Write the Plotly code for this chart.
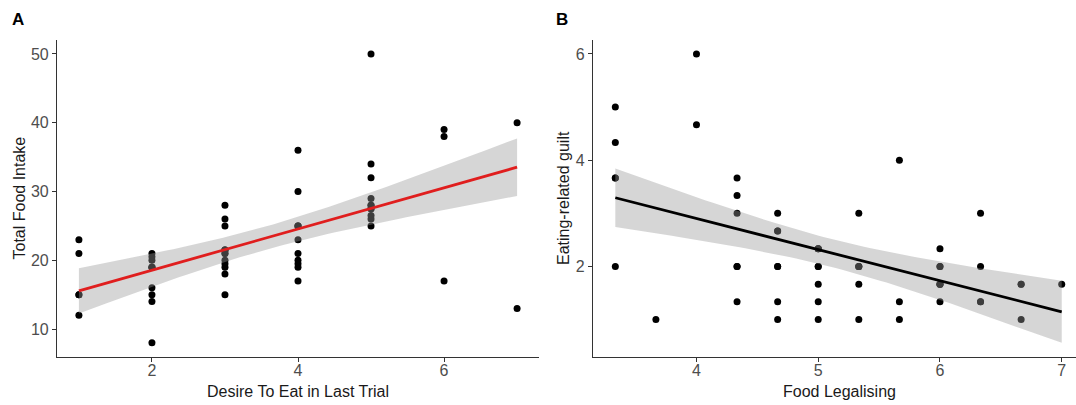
import numpy as np
import plotly.graph_objects as go

# ---------------- Data (overlapping points included) ----------------
# Panel A: Desire To Eat in Last Trial vs Total Food Intake
desire_x = [1, 1, 1, 1, 1,
            2, 2, 2, 2, 2, 2, 2, 2, 2, 2,
            3, 3, 3, 3, 3, 3, 3, 3, 3, 3, 3, 3, 3,
            4, 4, 4, 4, 4, 4, 4, 4, 4, 4, 4,
            5, 5, 5, 5, 5, 5, 5, 5, 5, 5, 5,
            6, 6, 6,
            7, 7]
intake_y = [23, 21, 15, 15, 12,
            21, 20.5, 20, 19, 19, 19, 16, 15, 14, 8,
            28, 26, 25, 21.5, 21.5, 21.5, 21, 21, 20, 19.5, 19, 18, 15,
            36, 30, 25, 25, 25, 23, 21, 20, 19.5, 19, 17,
            50, 34, 32, 29, 28, 28, 27.5, 27.5, 26.5, 26, 25,
            39, 38, 17,
            40, 13]

# Panel B: Food Legalising vs Eating-related guilt
legal_x = [10/3, 10/3, 10/3, 10/3, 10/3,
           11/3,
           4, 4,
           13/3, 13/3, 13/3, 13/3, 13/3, 13/3,
           14/3, 14/3, 14/3, 14/3, 14/3, 14/3, 14/3,
           5, 5, 5, 5, 5, 5, 5, 5,
           16/3, 16/3, 16/3, 16/3, 16/3, 16/3,
           17/3, 17/3, 17/3,
           6, 6, 6, 6, 6, 6, 6,
           19/3, 19/3, 19/3, 19/3,
           20/3, 20/3, 20/3,
           7]
guilt_y = [5, 13/3, 11/3, 11/3, 2,
           1,
           6, 14/3,
           11/3, 10/3, 3, 2, 2, 4/3,
           3, 8/3, 8/3, 2, 2, 4/3, 1,
           7/3, 7/3, 7/3, 2, 2, 5/3, 4/3, 1,
           3, 2, 2, 2, 5/3, 1,
           4, 4/3, 1,
           7/3, 2, 2, 5/3, 5/3, 5/3, 4/3,
           3, 2, 4/3, 4/3,
           5/3, 5/3, 1,
           5/3]

xticks_a = [2, 4, 6]
yticks_a = [10, 20, 30, 40, 50]
xticks_b = [4, 5, 6, 7]
yticks_b = [2, 4, 6]


def t975(df):
    z = 1.959964
    return (z + (z**3 + z) / (4 * df)
            + (5 * z**5 + 16 * z**3 + 3 * z) / (96 * df**2)
            + (3 * z**7 + 19 * z**5 + 17 * z**3 - 15 * z) / (384 * df**3))


def lm_band(x, y, n_grid=80):
    x = np.asarray(x, float)
    y = np.asarray(y, float)
    n = len(x)
    b, a = np.polyfit(x, y, 1)
    resid = y - (a + b * x)
    s = np.sqrt(np.sum(resid**2) / (n - 2))
    sxx = np.sum((x - x.mean())**2)
    gx = np.linspace(x.min(), x.max(), n_grid)
    fit = a + b * gx
    half = t975(n - 2) * s * np.sqrt(1 / n + (gx - x.mean())**2 / sxx)
    return gx, fit, fit - half, fit + half


FONT = "Liberation Sans, Arial, sans-serif"
W, H = 1076, 405

gxa, fa, loa, hia = lm_band(desire_x, intake_y)
gxb, fb, lob, hib = lm_band(legal_x, guilt_y)

fig = go.Figure()

# Panel A
fig.add_trace(go.Scatter(x=desire_x, y=intake_y, mode="markers",
                         marker=dict(color="black", size=7),
                         xaxis="x", yaxis="y", showlegend=False))
fig.add_trace(go.Scatter(x=np.concatenate([gxa, gxa[::-1]]),
                         y=np.concatenate([hia, loa[::-1]]),
                         fill="toself", fillcolor="rgba(153,153,153,0.4)",
                         line=dict(width=0), mode="lines",
                         xaxis="x", yaxis="y", showlegend=False))
fig.add_trace(go.Scatter(x=gxa, y=fa, mode="lines",
                         line=dict(color="#e01e1e", width=2.8),
                         xaxis="x", yaxis="y", showlegend=False))

# Panel B
fig.add_trace(go.Scatter(x=legal_x, y=guilt_y, mode="markers",
                         marker=dict(color="black", size=7),
                         xaxis="x2", yaxis="y2", showlegend=False))
fig.add_trace(go.Scatter(x=np.concatenate([gxb, gxb[::-1]]),
                         y=np.concatenate([hib, lob[::-1]]),
                         fill="toself", fillcolor="rgba(153,153,153,0.4)",
                         line=dict(width=0), mode="lines",
                         xaxis="x2", yaxis="y2", showlegend=False))
fig.add_trace(go.Scatter(x=gxb, y=fb, mode="lines",
                         line=dict(color="black", width=2.8),
                         xaxis="x2", yaxis="y2", showlegend=False))


def expand(lo, hi, f=0.05):
    d = hi - lo
    return [lo - f * d, hi + f * d]


xa_rng = expand(min(desire_x), max(desire_x))
ya_rng = expand(min(min(intake_y), loa.min()), max(max(intake_y), hia.max()))
xb_lo = min(legal_x) - 0.05 * (max(legal_x) - min(legal_x))
xb_rng = [xb_lo, max(legal_x) + 0.032 * (max(legal_x) - min(legal_x))]
yb_rng = expand(min(min(guilt_y), lob.min()), max(max(guilt_y), hib.max()))

ax_common = dict(showline=True, linecolor="#333333", linewidth=1.1,
                 ticks="outside", ticklen=4, tickwidth=1.1, tickcolor="#333333",
                 showgrid=False, zeroline=False,
                 tickfont=dict(family=FONT, size=16, color="#4d4d4d"),
                 automargin=False)

ydom = [(H - 357.3) / H, (H - 39.5) / H]

fig.update_layout(
    width=W, height=H,
    margin=dict(l=0, r=0, t=0, b=0),
    paper_bgcolor="white", plot_bgcolor="white",
    font=dict(family=FONT),
    xaxis=dict(domain=[57 / W, 539 / W], range=xa_rng, tickvals=xticks_a,
               anchor="y", ticklabelstandoff=-6, **ax_common),
    yaxis=dict(domain=ydom, range=ya_rng, tickvals=yticks_a,
               anchor="x", **ax_common),
    xaxis2=dict(domain=[593 / W, 1.0], range=xb_rng, tickvals=xticks_b,
                anchor="y2", ticklabelstandoff=-6, **ax_common),
    yaxis2=dict(domain=ydom, range=yb_rng, tickvals=yticks_b,
                anchor="x2", **ax_common),
)

tfont = dict(family=FONT, size=16, color="#1a1a1a")
ann = [
    dict(text="Desire To Eat in Last Trial", x=298, y=391.5),
    dict(text="Food Legalising", x=839, y=391.5),
    dict(text="Total Food Intake", x=19, y=198.5, textangle=-90),
    dict(text="Eating-related guilt", x=563.5, y=198.5, textangle=-90),
    dict(text="<b>A</b>", x=17.5, y=19.5, size=17),
    dict(text="<b>B</b>", x=562, y=19.5, size=17),
]
for a in ann:
    f = dict(tfont)
    if "size" in a:
        f["size"] = a.pop("size")
        f["color"] = "black"
    fig.add_annotation(text=a["text"], x=a["x"] / W, y=1 - a["y"] / H,
                       xref="paper", yref="paper", showarrow=False,
                       xanchor="center", yanchor="middle",
                       textangle=a.get("textangle", 0), font=f)

fig.write_html("out.html")
